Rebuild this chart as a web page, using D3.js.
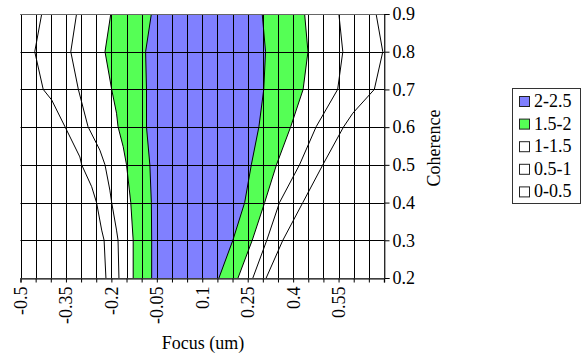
<!DOCTYPE html>
<html>
<head>
<meta charset="utf-8">
<script src="https://cdn.jsdelivr.net/npm/d3@7"></script>
<style>
  body { margin: 0; background: #fff; }
</style>
</head>
<body>
<svg id="chart" width="583" height="358"></svg>
<script>
// contour lines, [focus, coherence]
const line05Left = [[-0.430,0.9],[-0.453,0.8],[-0.425,0.7],[-0.397,0.672],[-0.353,0.601],[-0.304,0.521],[-0.298,0.5],[-0.265,0.442],[-0.249,0.4],[-0.232,0.327],[-0.224,0.3],[-0.218,0.2]];
const line10Left = [[-0.315,0.9],[-0.334,0.8],[-0.309,0.7],[-0.277,0.601],[-0.238,0.539],[-0.221,0.5],[-0.205,0.433],[-0.199,0.4],[-0.183,0.327],[-0.178,0.3],[-0.175,0.2]];
const line15Left = [[-0.202,0.9],[-0.221,0.8],[-0.199,0.7],[-0.183,0.637],[-0.178,0.601],[-0.161,0.548],[-0.150,0.5],[-0.136,0.4],[-0.128,0.3],[-0.128,0.2]];
const line20Left = [[-0.068,0.9],[-0.087,0.8],[-0.084,0.7],[-0.084,0.6],[-0.073,0.5],[-0.068,0.4],[-0.067,0.3],[-0.067,0.2]];
const line20Right = [[0.298,0.9],[0.309,0.8],[0.303,0.7],[0.287,0.601],[0.262,0.5],[0.240,0.4],[0.201,0.3],[0.155,0.2]];
const line15Right = [[0.438,0.9],[0.449,0.8],[0.433,0.7],[0.392,0.601],[0.345,0.5],[0.306,0.4],[0.265,0.3],[0.218,0.2]];
const line10Right = [[0.551,0.9],[0.564,0.8],[0.547,0.7],[0.476,0.601],[0.421,0.5],[0.355,0.4],[0.313,0.3],[0.267,0.2]];
const line05Right = [[0.674,0.9],[0.696,0.8],[0.668,0.7],[0.597,0.637],[0.566,0.6],[0.498,0.5],[0.432,0.4],[0.366,0.3],[0.311,0.2]];

const focusCategories = [-0.5,-0.45,-0.4,-0.35,-0.3,-0.25,-0.2,-0.15,-0.1,-0.05,0,0.05,0.1,0.15,0.2,0.25,0.3,0.35,0.4,0.45,0.5,0.55,0.6,0.65,0.7];
const focusLabels = ["-0.5","-0.35","-0.2","-0.05","0.1","0.25","0.4","0.55"];
const coherenceTicks = [0.2,0.3,0.4,0.5,0.6,0.7,0.8,0.9];
const legendNames = ["2-2.5","1.5-2","1-1.5","0.5-1","0-0.5"];
const legendColors = ["#8080ff","#55ff55","#ffffff","#ffffff","#ffffff"];

const FONT = "'Liberation Serif', serif";
const FS = "18px";
const svg = d3.select("#chart");
const x = d3.scaleLinear().domain([-0.5, 0.7]).range([20.5, 384]);
const y = d3.scaleLinear().domain([0.2, 0.9]).range([278, 14]);
const line = d3.line().x(d => x(d[0])).y(d => y(d[1]));

// filled bands
function band(left, right) {
  return left.concat(right.slice().reverse());
}
svg.append("path")
  .attr("d", line(band(line15Left, line15Right)) + "Z")
  .attr("fill", legendColors[1]);
svg.append("path")
  .attr("d", line(band(line20Left, line20Right)) + "Z")
  .attr("fill", legendColors[0]);

// grid
const grid = svg.append("g").attr("stroke", "#000").attr("stroke-width", 1);
grid.selectAll(".vg").data(focusCategories).enter().append("line")
  .attr("x1", d => Math.round(x(d)) + 0.5).attr("x2", d => Math.round(x(d)) + 0.5)
  .attr("y1", y(0.9)).attr("y2", y(0.2));
grid.selectAll(".hg").data(coherenceTicks).enter().append("line")
  .attr("x1", x(-0.5)).attr("x2", x(0.7))
  .attr("y1", d => Math.round(y(d)) + 0.5).attr("y2", d => Math.round(y(d)) + 0.5);

// contour lines
[line05Left, line10Left, line15Left, line20Left, line20Right, line15Right, line10Right, line05Right].forEach(l => {
  svg.append("path").attr("d", line(l)).attr("fill", "none")
    .attr("stroke", "#000").attr("stroke-width", 1);
});

// x axis
const xAxis = d3.axisBottom(x).tickValues(focusCategories).tickSize(4)
  .tickFormat(d => {
    const s = String(+d.toFixed(2));
    return focusLabels.includes(s) ? s : "";
  });
const gx = svg.append("g").attr("transform", "translate(0," + (Math.round(y(0.2)) + 0.5) + ")").call(xAxis);
gx.select(".domain").attr("stroke", "#555").attr("stroke-width", 1.5);
gx.selectAll(".tick line").attr("stroke", "#000");
gx.selectAll("text")
  .style("font-family", FONT).style("font-size", FS)
  .attr("fill", "#000")
  .attr("transform", "rotate(-90)")
  .attr("text-anchor", "end")
  .attr("x", -8).attr("y", 0).attr("dy", "0.33em");

// y axis on the right
const yAxis = d3.axisRight(y).tickValues(coherenceTicks).tickSize(5).tickPadding(3).tickFormat(d3.format(".1f"));
const gy = svg.append("g").attr("transform", "translate(384.5,0)").call(yAxis);
gy.select(".domain").attr("stroke", "#555");
gy.selectAll(".tick line").attr("stroke", "#000");
gy.selectAll("text").style("font-family", FONT).style("font-size", FS).attr("fill", "#000");

// top frame
svg.append("line").attr("x1", x(-0.5)).attr("x2", x(0.7)).attr("y1", 14.5).attr("y2", 14.5).attr("stroke", "#666");

// axis titles
svg.append("text").attr("x", 203).attr("y", 349).attr("text-anchor", "middle")
  .style("font-family", FONT).style("font-size", FS).text("Focus (um)");
svg.append("text").attr("transform", "translate(440,148) rotate(-90)").attr("text-anchor", "middle")
  .style("font-family", FONT).style("font-size", FS).text("Coherence");

// legend
const lg = svg.append("g");
lg.append("rect").attr("x", 512.5).attr("y", 88.5).attr("width", 68).attr("height", 115)
  .attr("fill", "#fff").attr("stroke", "#333");
const item = lg.selectAll(".item").data(legendNames).enter().append("g")
  .attr("transform", (d, i) => "translate(0," + (101 + i * 22.6) + ")");
item.append("rect").attr("x", 519.5).attr("y", -4.5).attr("width", 10).attr("height", 10)
  .attr("fill", (d, i) => legendColors[i]).attr("stroke", "#222");
item.append("text").attr("x", 534).attr("y", 6)
  .style("font-family", FONT).style("font-size", FS).text(d => d);
</script>
</body>
</html>
